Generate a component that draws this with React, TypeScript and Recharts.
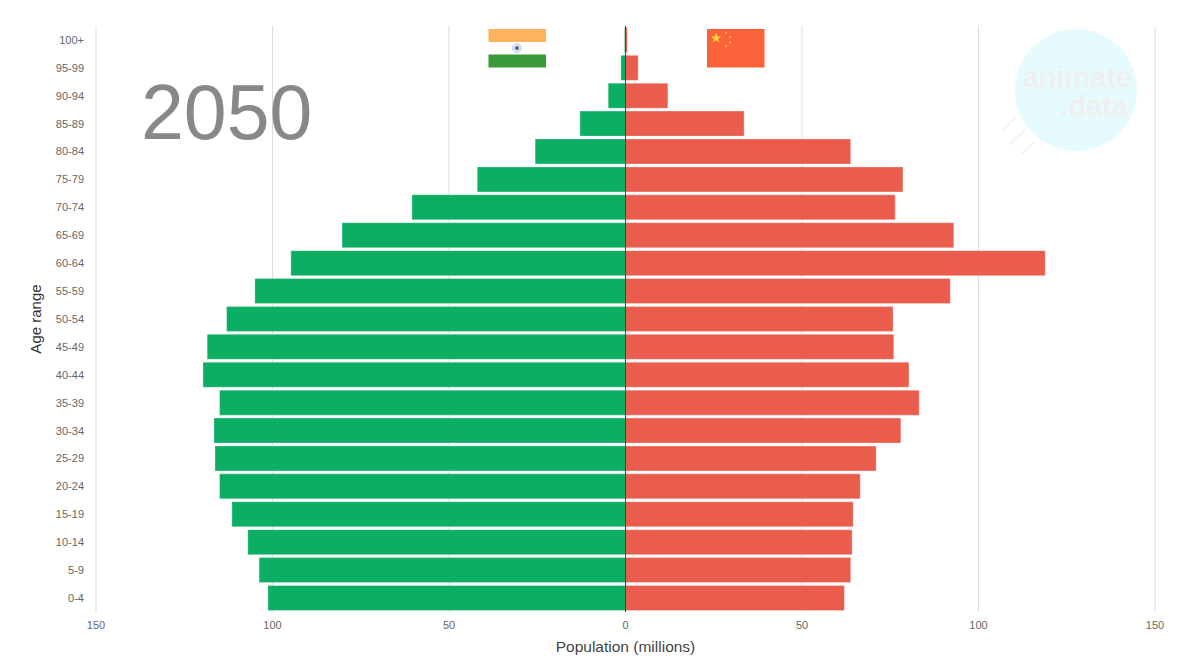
import React from 'react';
import { BarChart, Bar, XAxis, YAxis, CartesianGrid, ReferenceLine } from 'recharts';

const ageRanges = ['100+', '95-99', '90-94', '85-89', '80-84', '75-79', '70-74', '65-69', '60-64', '55-59', '50-54', '45-49', '40-44', '35-39', '30-34', '25-29', '20-24', '15-19', '10-14', '5-9', '0-4'];
const indiaValues = [0.3, 1.3, 4.9, 12.9, 25.6, 42, 60.5, 80.3, 94.8, 105, 113, 118.5, 119.7, 115, 116.6, 116.3, 115, 111.5, 107, 103.8, 101.3];
const chinaValues = [0.5, 3.6, 12, 33.6, 63.8, 78.6, 76.4, 93, 118.9, 92, 75.8, 76, 80.3, 83.2, 78, 71, 66.5, 64.5, 64.2, 63.8, 62];
const xTicks = [-150, -100, -50, 0, 50, 100, 150];

// India is drawn to the left of the zero line, so its values go negative
const chartData = ageRanges.map((age, i) => ({
  age,
  india: -indiaValues[i],
  china: chinaValues[i],
}));

const FONT = '"Liberation Sans", Arial, sans-serif';

// Year label, flags and watermark sit on top of the chart
const Overlay: React.FC = () => (
  <svg width={1182} height={659} style={{ position: 'absolute', left: 0, top: 0, pointerEvents: 'none' }}>
    {/* watermark */}
    <circle cx={1076} cy={90} r={61} fill="#e6fbfd" />
    <text x={1132} y={87} textAnchor="end" fontFamily={FONT} fontWeight="bold" fontSize={29} fill="#f0eff0">animate</text>
    <text x={1128} y={116} textAnchor="end" fontFamily={FONT} fontWeight="bold" fontSize={29} fill="#f0eff0">.data</text>
    <g stroke="#efefef" strokeWidth={1.5}>
      <line x1={1003} y1={130} x2={1016} y2={117} />
      <line x1={1009} y1={145} x2={1026} y2={129} />
      <line x1={1021} y1={154} x2={1034} y2={142} />
    </g>

    {/* year */}
    <text x={141} y={139} fontFamily={FONT} fontSize={77} fill="#888888">2050</text>

    {/* India flag */}
    <rect x={488.5} y={29} width={57.5} height={13} fill="#ffb25c" />
    <rect x={488.5} y={54.5} width={57.5} height={13} fill="#3b9937" />
    <circle cx={517} cy={48} r={4.5} fill="#dfe6ee" stroke="#c9d3e0" />
    <circle cx={517} cy={48} r={2} fill="#4a6a96" />

    {/* China flag */}
    <rect x={707} y={29} width={57.5} height={38.5} fill="#fa6239" />
    <polygon points="716,33 717.3,36.6 721,36.6 718,38.9 719.1,42.5 716,40.3 712.9,42.5 714,38.9 711,36.6 714.7,36.6" fill="#ffd83a" />
    <g fill="#ffc93a">
      <circle cx={726} cy={33} r={1} />
      <circle cx={730} cy={37} r={1} />
      <circle cx={730} cy={42.5} r={1} />
      <circle cx={726} cy={46} r={1} />
    </g>
  </svg>
);

export default function App() {
  return (
    <div style={{ position: 'absolute', left: 0, top: 0, width: 1182, height: 659 }}>
      <BarChart
        width={1182}
        height={659}
        data={chartData}
        layout="vertical"
        stackOffset="sign"
        barCategoryGap="5%"
        margin={{ top: 26, right: 27, bottom: 0, left: 0 }}
      >
        <CartesianGrid horizontal={false} vertical stroke="#dddddd" verticalValues={xTicks.filter(t => t !== 0)} />
        <XAxis
          type="number"
          domain={[-150, 150]}
          ticks={xTicks}
          tickFormatter={(v: number) => String(Math.abs(v))}
          height={47}
          axisLine={false}
          tickLine={false}
          tick={{ fill: '#666666', fontSize: 11, fontFamily: FONT }}
          tickMargin={3}
          label={{ value: 'Population (millions)', position: 'insideBottom', offset: 7, fill: '#444444', fontSize: 15.5, fontFamily: FONT }}
        />
        <YAxis
          type="category"
          dataKey="age"
          width={96}
          interval={0}
          axisLine={false}
          tickLine={false}
          tick={{ fill: '#666666', fontSize: 11, fontFamily: FONT }}
          tickMargin={6}
          label={{ value: 'Age range', angle: -90, position: 'insideLeft', offset: 36, textAnchor: 'middle', fill: '#333333', fontSize: 15, fontFamily: FONT }}
        />
        <Bar dataKey="india" stackId="pop" fill="#0bae62" stroke="#ffffff" strokeOpacity={0.3} isAnimationActive={false} />
        <Bar dataKey="china" stackId="pop" fill="#ea5c4c" stroke="#ffffff" strokeOpacity={0.3} isAnimationActive={false} />
        <ReferenceLine x={0} stroke="#444444" strokeWidth={1} />
      </BarChart>
      <Overlay />
    </div>
  );
}
